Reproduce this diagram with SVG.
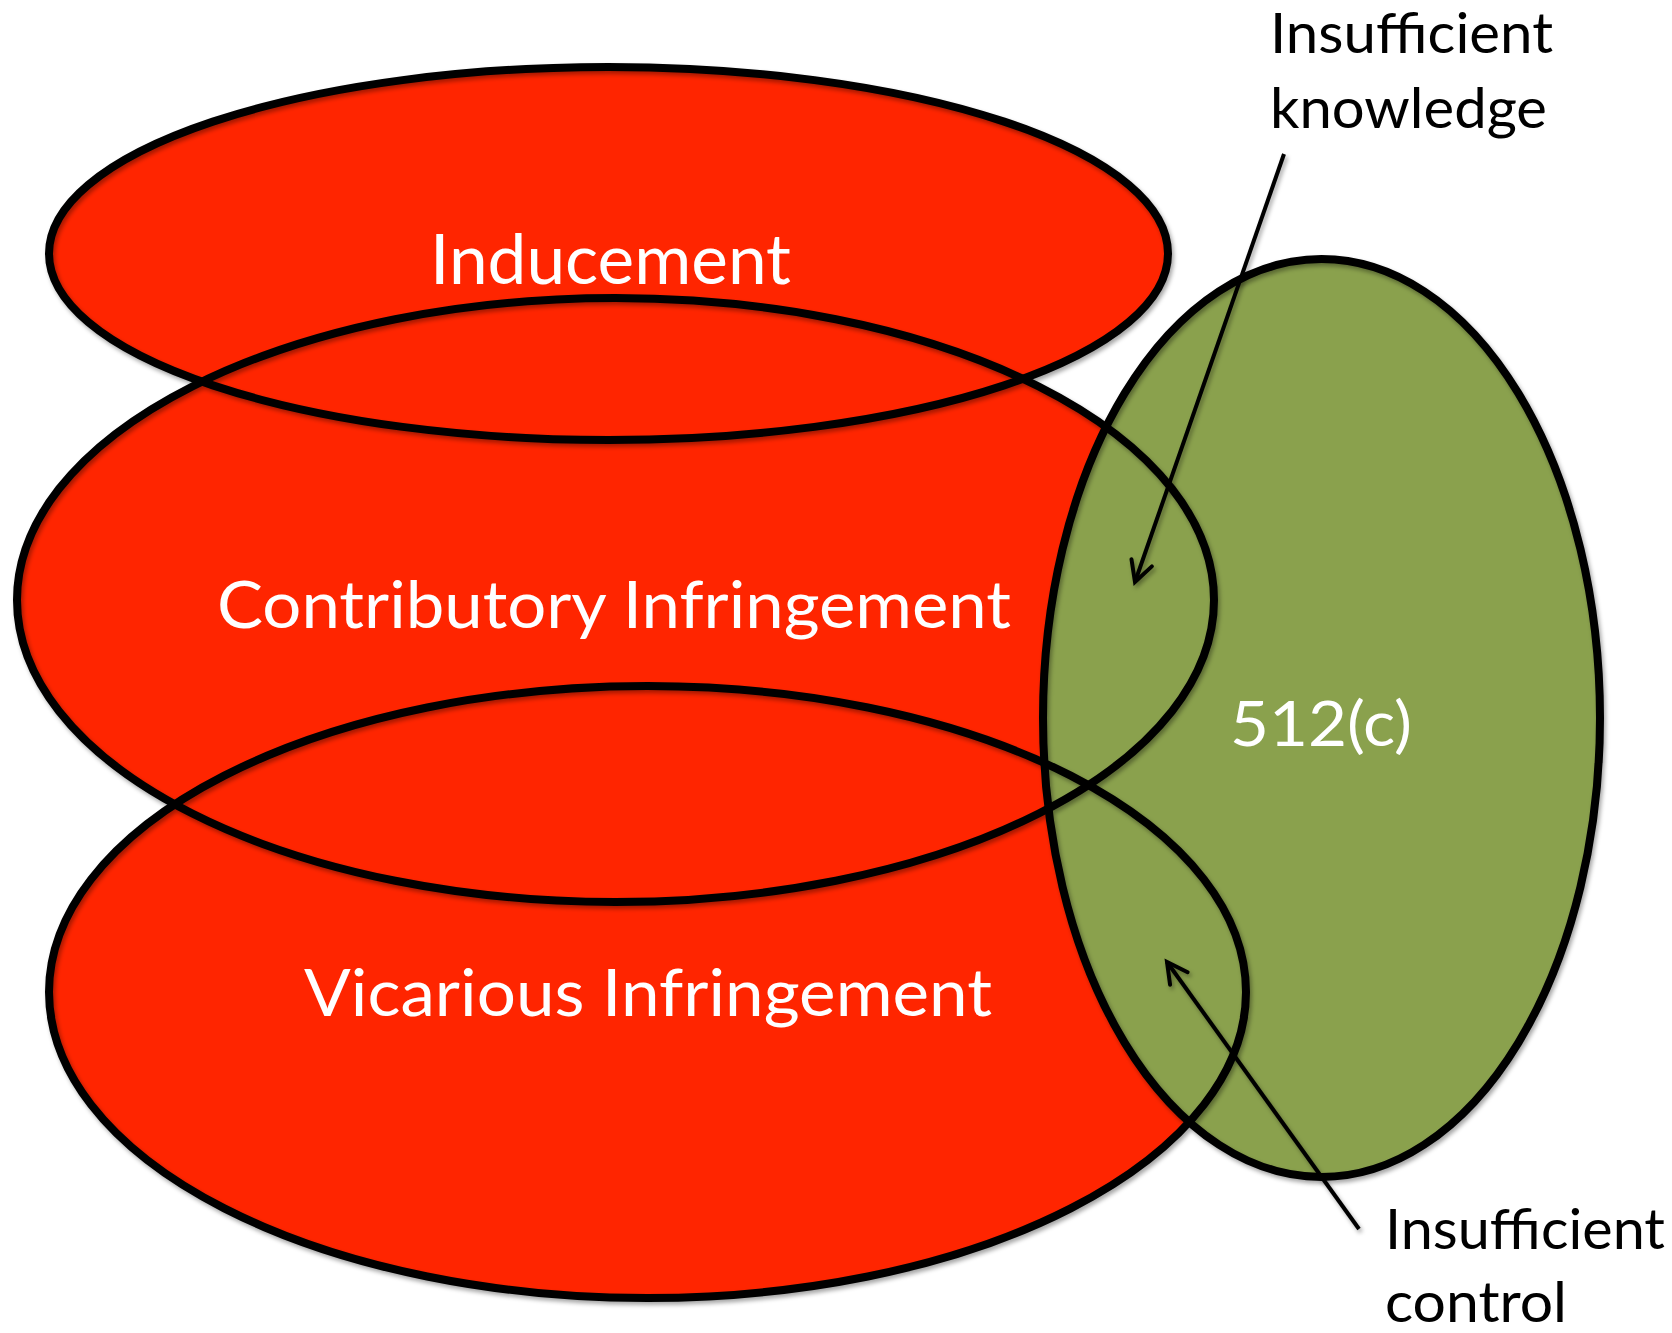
<svg xmlns="http://www.w3.org/2000/svg" width="1672" height="1333" viewBox="0 0 1672 1333">
  <defs>
    <style>
      .red { fill: #FF2500; }
      .green { fill: #8AA14D; }
      .outline { fill: none; stroke: #000; stroke-width: 8; }
      .inner { font-family: Lato, "Open Sans", "Liberation Sans", sans-serif; fill: #fff; }
      .label { font-family: Lato, "Open Sans", "Liberation Sans", sans-serif; fill: #000; font-size: 57px; }
      .conn { stroke: #000; stroke-width: 4; fill: none; marker-end: url(#arrow); }
    </style>
    <filter id="shadow" x="-5%" y="-5%" width="110%" height="110%">
      <feDropShadow dx="2" dy="3" stdDeviation="2" flood-color="#000" flood-opacity="0.35"/>
    </filter>
    <marker id="arrow" markerUnits="userSpaceOnUse" viewBox="-26 -15 32 30" refX="0" refY="0" markerWidth="32" markerHeight="30" orient="auto" overflow="visible">
      <path d="M -20.3 -10.8 L 0 0 L -20.3 10.8" fill="none" stroke="#000" stroke-width="4" stroke-linecap="round" stroke-linejoin="miter"/>
    </marker>
  </defs>
  <rect x="0" y="0" width="1672" height="1333" fill="#fff"/>

  <g id="fills">
    <ellipse class="red" cx="608.5" cy="253.5" rx="559.5" ry="186.5"/>
    <ellipse class="red" cx="615.5" cy="600" rx="598.5" ry="302"/>
    <ellipse class="red" cx="647.5" cy="992" rx="598.5" ry="306"/>
    <ellipse class="green" cx="1321.5" cy="718" rx="278.5" ry="459"/>
  </g>

  <g id="outlines" filter="url(#shadow)">
    <ellipse id="inducement-outline" class="outline" cx="608.5" cy="253.5" rx="559.5" ry="186.5"/>
    <ellipse id="contributory-outline" class="outline" cx="615.5" cy="600" rx="598.5" ry="302"/>
    <ellipse id="vicarious-outline" class="outline" cx="647.5" cy="992" rx="598.5" ry="306"/>
    <ellipse id="s512c-outline" class="outline" cx="1321.5" cy="718" rx="278.5" ry="459"/>
  </g>

  <g id="inducement">
    <text class="inner" x="430" y="284" font-size="70" textLength="361" lengthAdjust="spacingAndGlyphs">Inducement</text>
  </g>
  <g id="contributory">
    <text class="inner" x="217" y="628" font-size="66" textLength="794" lengthAdjust="spacingAndGlyphs">Contributory Infringement</text>
  </g>
  <g id="vicarious">
    <text class="inner" x="304" y="1016" font-size="66" textLength="688" lengthAdjust="spacingAndGlyphs">Vicarious Infringement</text>
  </g>
  <g id="s512c">
    <text class="inner" x="1230" y="746" font-size="62" textLength="182" lengthAdjust="spacingAndGlyphs">512(c)</text>
  </g>

  <g id="insufficient-knowledge">
    <text class="label" x="1270" y="53" textLength="283" lengthAdjust="spacingAndGlyphs">Insufficient</text>
    <text class="label" x="1270" y="128" textLength="277" lengthAdjust="spacingAndGlyphs">knowledge</text>
  </g>
  <g id="insufficient-control">
    <text class="label" x="1385" y="1249" textLength="280" lengthAdjust="spacingAndGlyphs">Insufficient</text>
    <text class="label" x="1385" y="1322" textLength="182" lengthAdjust="spacingAndGlyphs">control</text>
  </g>

  <g id="connectors" filter="url(#shadow)">
    <line class="conn" x1="1284" y1="154" x2="1135" y2="582"/>
    <line class="conn" x1="1359" y1="1229" x2="1167" y2="962"/>
  </g>
</svg>
